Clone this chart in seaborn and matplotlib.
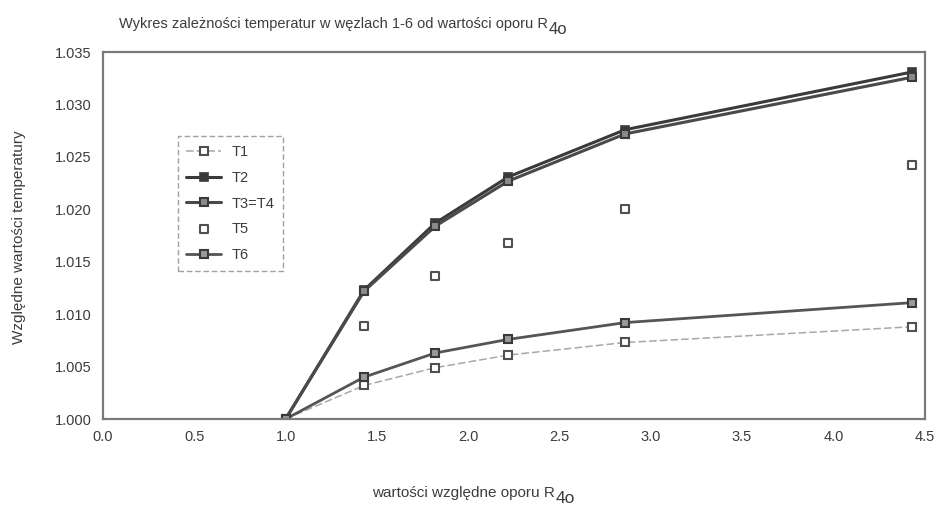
import matplotlib
matplotlib.use("Agg")
import matplotlib.pyplot as plt
from matplotlib.transforms import offset_copy
import seaborn as sns
import numpy as np
import pandas as pd

# ---- data ----
r40 = [1.00, 1.43, 1.82, 2.22, 2.86, 4.43]
T1 = [1.0000, 1.0032, 1.0049, 1.0061, 1.0073, 1.0088]
T2 = [1.0000, 1.0123, 1.0187, 1.0231, 1.0276, 1.0331]
T3_T4 = [1.0000, 1.0122, 1.0184, 1.0227, 1.0272, 1.0326]
T5 = [1.0000, 1.0089, 1.0136, 1.0168, 1.0200, 1.0242]
T6 = [1.0000, 1.0040, 1.0063, 1.0076, 1.0092, 1.0111]
series_names = ["T1", "T2", "T3=T4", "T5", "T6"]
xticks = [0.0, 0.5, 1.0, 1.5, 2.0, 2.5, 3.0, 3.5, 4.0, 4.5]
yticks = [1.000, 1.005, 1.010, 1.015, 1.020, 1.025, 1.030, 1.035]

sns.set_theme(style="white")
plt.rcParams['font.family'] = ['Liberation Sans', 'DejaVu Sans']

fig = plt.figure(figsize=(9.38, 5.11), dpi=100)
ax = fig.add_axes([0.1098, 0.18, 0.876, 0.718])

txt = "#3c3c3c"
edge = "#505050"
ms = 5.8

# T1: thin light dashed line, hollow markers
sns.lineplot(x=r40, y=T1, ax=ax, color="#a8a8a8", lw=1.1, linestyle=(0, (5, 2)),
             marker="s", markersize=ms, markerfacecolor="white",
             markeredgecolor=edge, markeredgewidth=1.5, label=series_names[0])
# T2: dark solid, filled marker
sns.lineplot(x=r40, y=T2, ax=ax, color="#3a3a3a", lw=2.2,
             marker="s", markersize=ms + 0.5, markerfacecolor="#3a3a3a",
             markeredgecolor="#3a3a3a", markeredgewidth=1.2, label=series_names[1])
# T3=T4
sns.lineplot(x=r40, y=T3_T4, ax=ax, color="#4a4a4a", lw=2.2,
             marker="s", markersize=ms + 0.5, markerfacecolor="#8a8a8a",
             markeredgecolor="#3a3a3a", markeredgewidth=1.5, label=series_names[2])
# T5: markers only
sns.scatterplot(x=r40[1:], y=T5[1:], ax=ax, marker="s", s=ms * ms, facecolor="white",
                edgecolor=edge, linewidth=1.5, label=series_names[3], zorder=5)
# T6
sns.lineplot(x=r40, y=T6, ax=ax, color="#555555", lw=2.0,
             marker="s", markersize=ms + 0.5, markerfacecolor="#9a9a9a",
             markeredgecolor="#3a3a3a", markeredgewidth=1.5, label=series_names[4])

ax.set_xlim(0, 4.5)
ax.set_ylim(1.000, 1.035)
ax.set_xticks(xticks)
ax.set_xticklabels([f"{v:.1f}" for v in xticks])
ax.set_yticks(yticks)
ax.set_yticklabels([f"{v:.3f}" for v in yticks])
ax.tick_params(axis="both", labelsize=10.5, colors=txt, length=0, pad=8)

for s in ax.spines.values():
    s.set_visible(True)
    s.set_color("#7a7a7a")
    s.set_linewidth(1.6)

ax.set_xlabel("")
ax.set_ylabel("")
fig.text(0.02, 0.535, "Względne wartości temperatury", rotation=90, ha="center",
         va="center", fontsize=11, color=txt)


def text_with_sub(x, y, main, sub, fs):
    t = fig.text(x, y, main, ha="left", va="baseline", fontsize=fs, color=txt)
    fig.canvas.draw()
    bb = t.get_window_extent(renderer=fig.canvas.get_renderer())
    x1 = bb.x1 / fig.dpi / fig.get_figwidth()
    tr = offset_copy(fig.transFigure, fig=fig, x=0.5, y=-4.5, units="points")
    fig.text(x1, y, sub, ha="left", va="baseline", fontsize=fs + 1.5, color=txt,
             transform=tr)


text_with_sub(0.127, 0.946, "Wykres zależności temperatur w węzlach 1-6 od wartości oporu R", "4o", 10.5)
text_with_sub(0.397, 0.027, "wartości względne oporu R", "4o", 11)

leg = ax.legend(loc="upper left", bbox_to_anchor=(0.082, 0.79), frameon=True,
                fontsize=10.5, labelcolor=txt, handlelength=2.4, handletextpad=0.7,
                borderpad=0.6, labelspacing=0.8, fancybox=False)
fr = leg.get_frame()
fr.set_edgecolor("#8a8a8a")
fr.set_linestyle((0, (4, 2)))
fr.set_linewidth(1.0)

fig.savefig("out.png", dpi=100, facecolor="white")
